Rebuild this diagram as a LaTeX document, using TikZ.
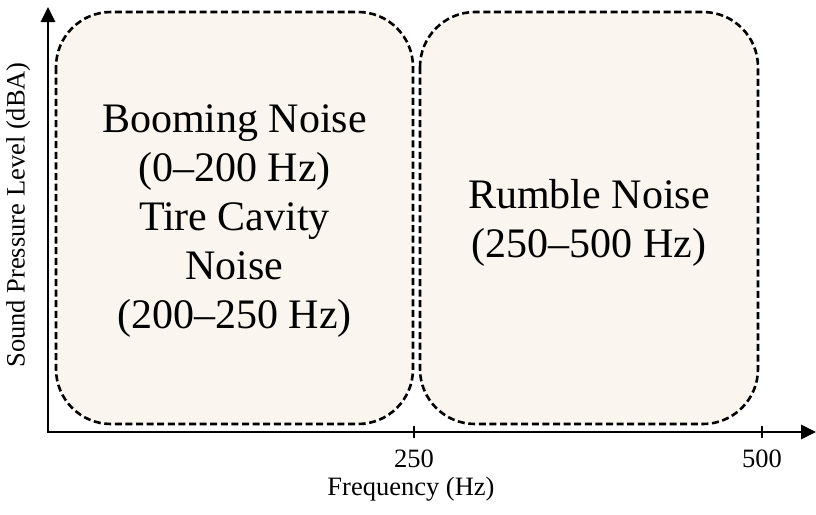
\documentclass[tikz,border=0pt]{standalone}
\usepackage{fontspec}
\setmainfont{Liberation Serif}
\usetikzlibrary{arrows.meta}
\definecolor{boxfill}{RGB}{250,245,238}
\begin{document}
\begin{tikzpicture}[x=1pt,y=-1pt,
  region/.style={draw=black,fill=boxfill,dash pattern=on 7pt off 3.6pt,line width=2.6pt,rounded corners=55pt},
  axis/.style={line width=2.8pt,-{Triangle[length=15pt,width=14pt]}},
  tick/.style={line width=2.4pt},
  big/.style={font=\fontsize{42}{49}\selectfont,align=center},
  small/.style={font=\fontsize{26.5}{30}\selectfont}]
\useasboundingbox (0,0) rectangle (816,514);
\draw[region] (56,12) rectangle (413,424);
\draw[region] (420,12) rectangle (758,424);
\coordinate (o) at (48,432);
\coordinate (ytop) at (48,7);
\coordinate (xend) at (816,432);
\draw[axis] (o) -- (ytop);
\draw[axis] ([xshift=-1.4pt]o) -- (xend);
\coordinate (t1) at (414,432);
\coordinate (t2) at (762,432);
\draw[tick] ([yshift=-6pt]t1) -- ([yshift=6pt]t1);
\draw[tick] ([yshift=-6pt]t2) -- ([yshift=6pt]t2);
\node[small,anchor=base] (l1) at (414,467) {250};
\node[small,anchor=base] (l2) at (762,467) {500};
\node[small,anchor=base] (xl) at (411,495) {Frequency (Hz)};
\node[small,rotate=90,anchor=base] (yl) at (24.5,215) {Sound Pressure Level (dBA)};
\node[big] (b1) at (234.5,221) {Booming Noise\\(0–200 Hz)\\Tire Cavity\\Noise\\(200–250 Hz)};
\node[big] (b2) at (589,222.5) {Rumble Noise\\(250–500 Hz)};
\end{tikzpicture}
\end{document}
